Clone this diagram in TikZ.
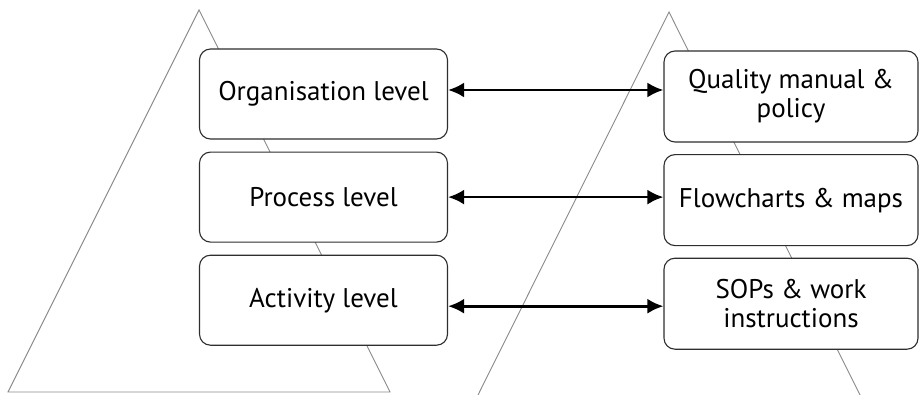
\documentclass[tikz,border=0pt]{standalone}
\usepackage{fontspec}
\setmainfont{PT Sans}
\usepackage{tikz}
\usetikzlibrary{positioning,arrows.meta}
\definecolor{ink}{HTML}{2E2E2E}
\definecolor{edge}{HTML}{8A8A8A}

\begin{document}
\begin{tikzpicture}[x=1pt, y=-1pt,
    levelbox/.style={draw=ink, line width=1.1pt, fill=white, rounded corners=11pt,
                     minimum width=248pt, minimum height=90pt, align=center,
                     font=\fontsize{27}{29}\selectfont},
    docbox/.style={levelbox, minimum width=254pt, minimum height=91pt},
    pyramid/.style={draw=edge, line width=0.9pt},
    link/.style={line width=2.8pt, {Latex[length=16pt,width=15pt]}-{Latex[length=16pt,width=15pt]}}]
      \clip (0,0) rectangle (920,395);
      % two pyramids behind the boxes
      \draw[pyramid] (199,10) -- (390,392) -- (8,392) -- cycle;
      \draw[pyramid] (477,397) -- (669,12) -- (861,397);
      % levels
      \node[levelbox] (org) at (323.5,94) {Organisation level};
      \node[levelbox, below=12pt of org] (proc) {Process level};
      \node[levelbox, below=12pt of proc] (act) {Activity level};
      % documents
      \node[docbox] (manual) at (791,96.5) {Quality manual \&\\ policy};
      \node[docbox, below=11.5pt of manual] (flow) {Flowcharts \& maps};
      \node[docbox, below=11.5pt of flow] (sop) {SOPs \& work\\ instructions};
      % links
      \draw[link] ([yshift=4pt]org.east) -- ([yshift=4pt]org.east -| manual.west);
      \draw[link] (proc.east) -- (proc.east -| flow.west);
      \draw[link] ([yshift=-6pt]act.east) -- ([yshift=-6pt]act.east -| sop.west);
\end{tikzpicture}
\end{document}
